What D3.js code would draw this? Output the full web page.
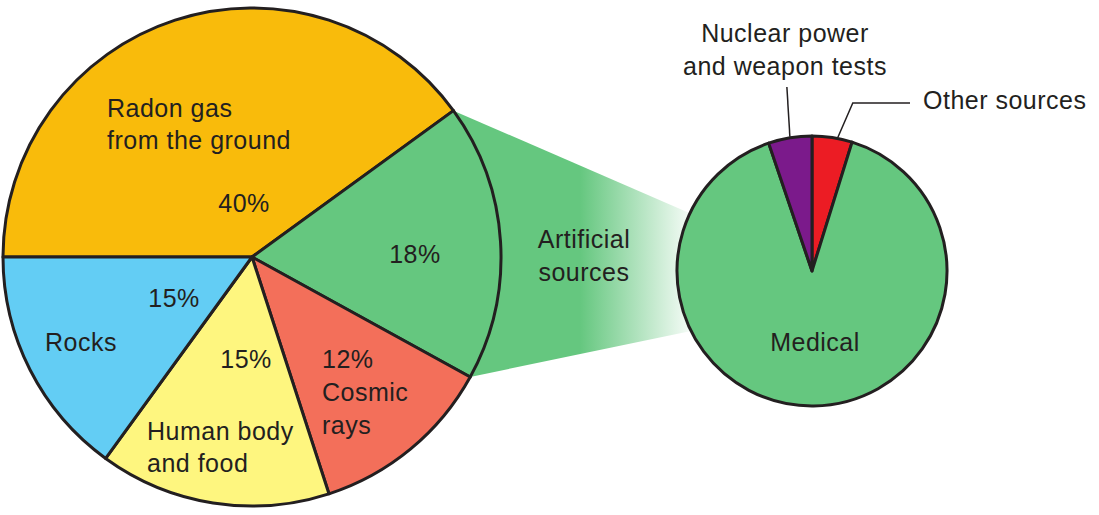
<!DOCTYPE html>
<html>
<head>
<meta charset="utf-8">
<script src="https://cdn.jsdelivr.net/npm/d3@7"></script>
<style>
  body { margin: 0; background: #fff; }
  text { font-family: "Liberation Sans", Arial, sans-serif; font-size: 25px; letter-spacing: 0.5px; fill: #231f20; }
</style>
</head>
<body>
<svg id="chart"></svg>
<script>
// main pie: natural background radiation sources (percent)
var sources = ["Radon gas from the ground", "Artificial sources", "Cosmic rays", "Human body and food", "Rocks"];
var shares = [40, 18, 12, 15, 15];
var colors = ["#f9bb0b", "#65c77f", "#f36f5a", "#fef67f", "#63cdf4"];

// small pie: breakdown of artificial sources (percent of artificial)
var artNames = ["Other sources", "Medical", "Nuclear power and weapon tests"];
var artShares = [4.8, 90, 5.2];
var artColors = ["#ec1c24", "#65c77f", "#7b1a8b"];

var w = 1099, h = 515;
var svg = d3.select("#chart").attr("width", w).attr("height", h);

var cx = 252, cy = 257, R = 249;
var sx = 812, sy = 271, r = 135;

var pie = d3.pie().sort(null).value(d => d)
  .startAngle(-Math.PI / 2).endAngle(3 * Math.PI / 2);
var arcs = pie(shares);
var arc = d3.arc().innerRadius(0).outerRadius(R);

var smallPie = d3.pie().sort(null).value(d => d);
var smallArcs = smallPie(artShares);
var smallArc = d3.arc().innerRadius(0).outerRadius(r);

function polar(x, y, rad, a) {
  return [x + rad * Math.sin(a), y - rad * Math.cos(a)];
}

// gradient band joining the artificial slice to the small pie
var defs = svg.append("defs");
var grad = defs.append("linearGradient")
  .attr("id", "fade")
  .attr("gradientUnits", "userSpaceOnUse")
  .attr("x1", 580).attr("y1", 0).attr("x2", 692).attr("y2", 0);
grad.append("stop").attr("offset", 0).attr("stop-color", "#65c77f").attr("stop-opacity", 1);
grad.append("stop").attr("offset", 1).attr("stop-color", "#65c77f").attr("stop-opacity", 0.05);

var art = arcs[1];
var p1 = polar(cx, cy, R, art.startAngle);
var p2 = polar(sx, sy, r, -64.7 * Math.PI / 180);
var p3 = polar(sx, sy, r, -116.4 * Math.PI / 180);
var p4 = polar(cx, cy, R, art.endAngle);
svg.append("path")
  .attr("d", d3.line()([p1, p2, [sx, sy], p3, p4]) + "Z")
  .attr("fill", "url(#fade)");

// main pie
var main = svg.append("g").attr("transform", "translate(" + cx + "," + cy + ")");
main.selectAll("path")
  .data(arcs)
  .enter().append("path")
  .attr("d", arc)
  .attr("fill", (d, i) => colors[i])
  .attr("stroke", "#231f20")
  .attr("stroke-width", 3)
  .attr("stroke-linejoin", "round");

// small pie
var small = svg.append("g").attr("transform", "translate(" + sx + "," + sy + ")");
small.selectAll("path")
  .data(smallArcs)
  .enter().append("path")
  .attr("d", smallArc)
  .attr("fill", (d, i) => artColors[i])
  .attr("stroke", "#231f20")
  .attr("stroke-width", 3)
  .attr("stroke-linejoin", "round");

// labels (lines relative to pie centres)
var mainLabels = [
  { lines: ["Radon gas", "from the ground"], x: -145, y: -140, anchor: "start" },
  { lines: [shares[0] + "%"], x: -8, y: -45, anchor: "middle" },
  { lines: [shares[1] + "%"], x: 163, y: 6, anchor: "middle" },
  { lines: [shares[4] + "%"], x: -78, y: 50, anchor: "middle" },
  { lines: ["Rocks"], x: -207, y: 94, anchor: "start" },
  { lines: [shares[3] + "%"], x: -6, y: 111, anchor: "middle" },
  { lines: ["Human body", "and food"], x: -105, y: 183, anchor: "start" },
  { lines: [shares[2] + "%", "Cosmic", "rays"], x: 70, y: 111, anchor: "start", lh: 33 }
];

function addLabel(g, d) {
  var t = g.append("text").attr("text-anchor", d.anchor);
  d.lines.forEach(function (s, i) {
    t.append("tspan").attr("x", d.x).attr("y", d.y + i * (d.lh || 32)).text(s);
  });
}
mainLabels.forEach(d => addLabel(main, d));

addLabel(svg, { lines: ["Artificial", "sources"], x: 584, y: 248, anchor: "middle", lh: 33 });
addLabel(small, { lines: ["Medical"], x: 3, y: 80, anchor: "middle" });
addLabel(svg, { lines: ["Nuclear power", "and weapon tests"], x: 785, y: 42, anchor: "middle", lh: 33 });
addLabel(svg, { lines: ["Other sources"], x: 923, y: 109, anchor: "start" });

// leader lines
var nuc = smallArcs[2];
var nucTip = polar(sx, sy, r + 1, (nuc.startAngle + nuc.endAngle) / 2);
svg.append("line")
  .attr("x1", nucTip[0]).attr("y1", nucTip[1])
  .attr("x2", nucTip[0] - 3).attr("y2", 87)
  .attr("stroke", "#231f20").attr("stroke-width", 1.5);

var oth = smallArcs[0];
var othTip = polar(sx, sy, r + 1, (oth.startAngle + oth.endAngle) / 2 + 0.04);
svg.append("polyline")
  .attr("points", [othTip, [othTip[0] + 15, 103], [910, 103]].map(p => p.join(",")).join(" "))
  .attr("fill", "none")
  .attr("stroke", "#231f20").attr("stroke-width", 1.5);
</script>
</body>
</html>
